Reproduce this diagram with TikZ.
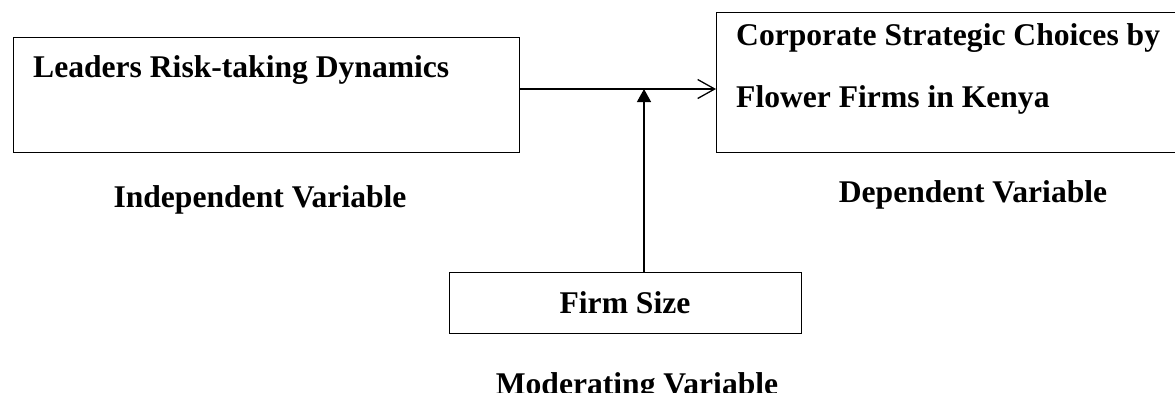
\documentclass[tikz,border=0pt]{standalone}
\usepackage{fontspec}
\setmainfont{Liberation Serif}
\usetikzlibrary{arrows.meta}
\begin{document}
\begin{tikzpicture}[x=1pt,y=-1pt,
  boxnode/.style={draw,line width=1.1pt,inner sep=0pt,anchor=north west},
  txt/.style={font=\fontsize{31.6}{36}\selectfont\bfseries,inner sep=0pt},
  conn/.style={line width=1.3pt}]
\useasboundingbox (0,0) rectangle (1175,392);
\clip (0,0) rectangle (1175,392);
\fill[white] (0,0) rectangle (1175,392);
% boxes
\node[boxnode,minimum width=506pt,minimum height=115pt] (iv) at (13,37) {};
\node[boxnode,minimum width=480pt,minimum height=140pt] (dv) at (716,12) {};
\node[boxnode,minimum width=352pt,minimum height=61pt] (fs) at (449,272) {};
% texts
\node[txt,anchor=base west] (ivt) at (33,77) {Leaders Risk-taking Dynamics};
\node[txt,anchor=base west] (dvt1) at (736,45) {Corporate Strategic Choices by};
\node[txt,anchor=base west] (dvt2) at (736,107) {Flower Firms in Kenya};
\node[txt,anchor=base] (fst) at (625,313) {Firm Size};
\node[txt,anchor=base] (ivl) at (260,207) {Independent Variable};
\node[txt,anchor=base] (dvl) at (973,202) {Dependent Variable};
\node[txt,anchor=base] (mvl) at (637,394) {Moderating Variable};
% connectors
\coordinate (m) at (644,89);
\draw[conn,-{Straight Barb[length=17pt,width=19pt,line width=1.3pt]}] (iv.east |- m) -- (dv.west |- m);
\draw[conn,-{Triangle[length=13pt,width=14pt]}] (fs.north -| m) -- (m);
\end{tikzpicture}
\end{document}
